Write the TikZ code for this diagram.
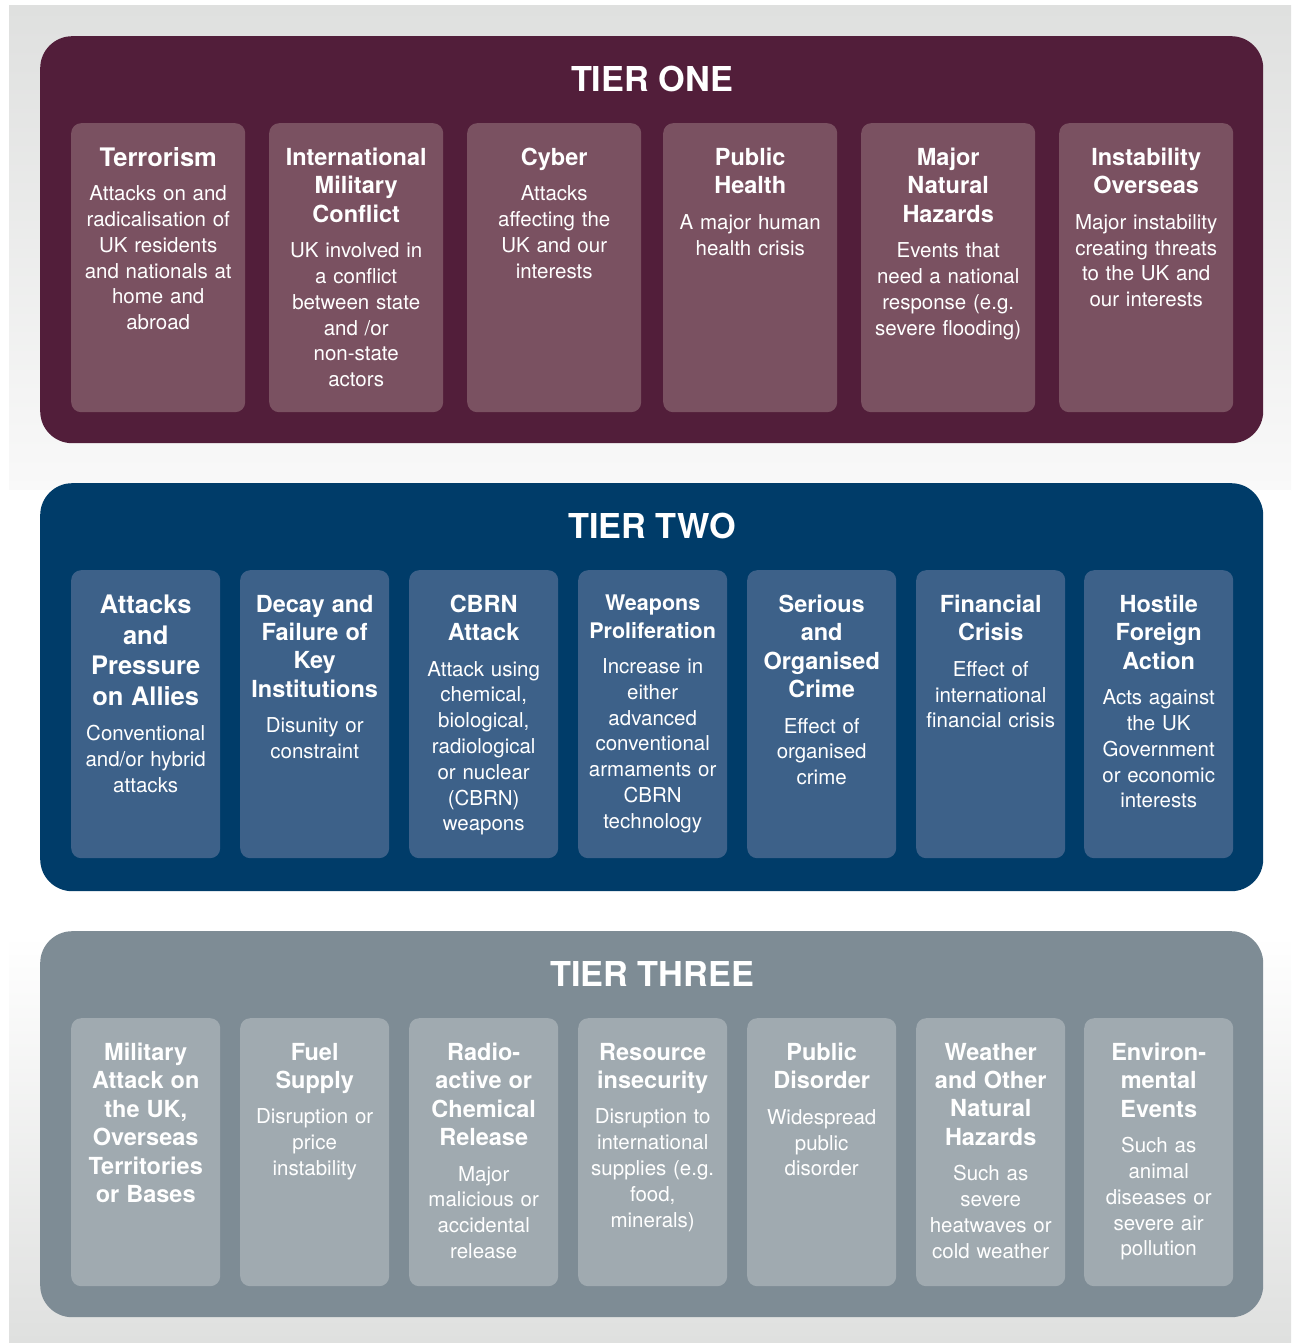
\documentclass[tikz,border=0pt]{standalone}
\usepackage{fontspec}
\setmainfont{TeX Gyre Heros}
\usetikzlibrary{calc}
\setlength\parindent{0pt}
\setlength\parskip{0pt}
\definecolor{bggray}{HTML}{DFE0DF}
\definecolor{bglight}{HTML}{F9F9F9}
\definecolor{tOne}{HTML}{521E3A}
\definecolor{cOne}{HTML}{7A5161}
\definecolor{tTwo}{HTML}{003C69}
\definecolor{cTwo}{HTML}{3D6189}
\definecolor{tThree}{HTML}{7E8C95}
\definecolor{cThree}{HTML}{A0AAB0}
\newcommand\cardtitle[1]{{\fontsize{23.5}{28.4}\selectfont\bfseries\spaceskip=.3em\relax #1\par}\vspace{9.5pt}}
\newcommand\cardtitleL[1]{{\fontsize{25.5}{30.7}\selectfont\bfseries\spaceskip=.3em\relax #1\par}\vspace{9.5pt}}
\newcommand\cardtitleS[1]{{\fontsize{21.5}{27.5}\selectfont\bfseries\spaceskip=.3em\relax #1\par}\vspace{9.5pt}}
\newcommand\cardbody[1]{{\fontsize{20.5}{25.8}\selectfont\spaceskip=.33em\relax #1\par}}
\newcommand\riskcard[6]{%
  \node[card, minimum width=#4pt, minimum height=#5pt] (#1) at (#2,#3) {};
  \node[cardtext, text width=#4pt] (#1-txt) at ($(#1.north)+(0,24.8)$) {#6};}
\tikzset{
  cardfill/.style={},
  tierpanel/.style={anchor=north west, rounded corners=32pt, inner sep=0pt, draw=none},
  card/.style={anchor=north west, rounded corners=10pt, inner sep=0pt, draw=none, cardfill},
  cardtext/.style={anchor=north, inner sep=0pt, align=center, text=white},
  tierhead/.style={anchor=base, inner sep=0pt, text=white, font=\fontsize{34.3}{40}\selectfont\bfseries}
}
\begin{document}
\begin{tikzpicture}[x=1pt,y=-1pt]
\useasboundingbox (0,0) rectangle (1291,1343);
\fill[white] (0,0) rectangle (1291,1343);
% background bands
\shade[top color=bggray, bottom color=bglight] (9,6) rectangle (1291,490);
\fill[white] (9,490) rectangle (1291,935);
\shade[top color=white, bottom color=bggray] (9,935) rectangle (1291,1342);

% ---------------- TIER ONE ----------------
\node[tierpanel, fill=tOne, minimum width=1223pt, minimum height=407pt] (tier1) at (40,36) {};
\node[tierhead] (tier1-head) at (652,91.5) {TIER ONE};
\begin{scope}[cardfill/.style={fill=cOne}]
\riskcard{terror}{71}{123}{174}{289}{\cardtitleL{Terrorism}\vspace{-1.5pt}\cardbody{Attacks on and\\radicalisation of\\UK residents\\and nationals at\\home and\\abroad}}
\riskcard{conflict}{269}{123}{174}{289}{\cardtitle{International\\Military\\Conflict}\cardbody{UK involved in\\a conflict\\between state\\and /or\\non-state\\actors}}
\riskcard{cyber}{467}{123}{174}{289}{\cardtitle{Cyber}\cardbody{Attacks\\affecting the\\UK and our\\interests}}
\riskcard{health}{663}{123}{174}{289}{\cardtitle{Public\\Health}\cardbody{A major human\\health crisis}}
\riskcard{hazards}{861}{123}{174}{289}{\cardtitle{Major\\Natural\\Hazards}\cardbody{Events that\\need a national\\response (e.g.\\severe flooding)}}
\riskcard{overseas}{1059}{123}{174}{289}{\cardtitle{Instability\\Overseas}\cardbody{Major instability\\creating threats\\to the UK and\\our interests}}
\end{scope}

% ---------------- TIER TWO ----------------
\node[tierpanel, fill=tTwo, minimum width=1223pt, minimum height=408pt] (tier2) at (40,483) {};
\node[tierhead] (tier2-head) at (652,538.5) {TIER TWO};
\begin{scope}[cardfill/.style={fill=cTwo}]
\riskcard{allies}{71}{570}{149}{288}{\cardtitleL{Attacks\\and\\Pressure\\on Allies}\cardbody{Conventional\\and/or hybrid\\attacks}}
\riskcard{decay}{240}{570}{149}{288}{\cardtitle{Decay and\\Failure of\\Key\\Institutions}\cardbody{Disunity or\\constraint}}
\riskcard{cbrn}{409}{570}{149}{288}{\cardtitle{CBRN\\Attack}\cardbody{Attack using\\chemical,\\biological,\\radiological\\or nuclear\\(CBRN)\\weapons}}
\riskcard{weapons}{578}{570}{149}{288}{\cardtitleS{Weapons\\Proliferation}\cardbody{Increase in\\either\\advanced\\conventional\\armaments or\\CBRN\\technology}}
\riskcard{crime}{747}{570}{149}{288}{\cardtitle{Serious\\and\\Organised\\Crime}\cardbody{Effect of\\organised\\crime}}
\riskcard{financial}{916}{570}{149}{288}{\cardtitle{Financial\\Crisis}\cardbody{Effect of\\international\\financial crisis}}
\riskcard{hostile}{1084}{570}{149}{288}{\cardtitle{Hostile\\Foreign\\Action}\cardbody{Acts against\\the UK\\Government\\or economic\\interests}}
\end{scope}

% ---------------- TIER THREE ----------------
\node[tierpanel, fill=tThree, minimum width=1223pt, minimum height=386pt] (tier3) at (40,931) {};
\node[tierhead] (tier3-head) at (652,986.5) {TIER THREE};
\begin{scope}[cardfill/.style={fill=cThree}]
\riskcard{military}{71}{1018}{149}{268}{{\fontsize{23.5}{28.4}\selectfont\bfseries\spaceskip=.3em\relax Military\\Attack on\\the UK,\\Overseas\\Territories\\or Bases\par}}
\riskcard{fuel}{240}{1018}{149}{268}{\cardtitle{Fuel\\Supply}\cardbody{Disruption or\\price\\instability}}
\riskcard{radio}{409}{1018}{149}{268}{\cardtitle{Radio-\\active or\\Chemical\\Release}\cardbody{Major\\malicious or\\accidental\\release}}
\riskcard{resource}{578}{1018}{149}{268}{\cardtitle{Resource\\insecurity}\cardbody{Disruption to\\international\\supplies (e.g.\\food,\\minerals)}}
\riskcard{disorder}{747}{1018}{149}{268}{\cardtitle{Public\\Disorder}\cardbody{Widespread\\public\\disorder}}
\riskcard{weather}{916}{1018}{149}{268}{\cardtitle{Weather\\and Other\\Natural\\Hazards}\cardbody{Such as\\severe\\heatwaves or\\cold weather}}
\riskcard{environ}{1084}{1018}{149}{268}{\cardtitle{Environ-\\mental\\Events}\cardbody{Such as\\animal\\diseases or\\severe air\\pollution}}
\end{scope}
\end{tikzpicture}
\end{document}
